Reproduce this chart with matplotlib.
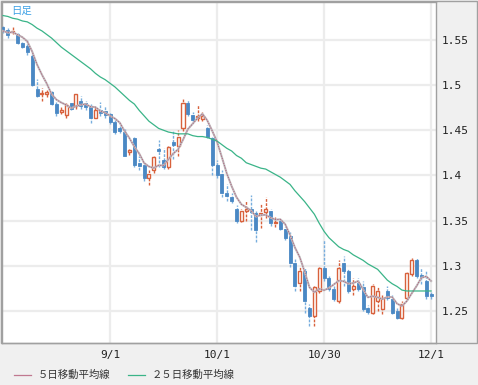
import numpy as np
import pandas as pd
import matplotlib
matplotlib.use("Agg")
import matplotlib.pyplot as plt
from matplotlib.lines import Line2D
from matplotlib.patches import Rectangle

# daily OHLC (index = trading day)
opens = [1.564, 1.561, 1.559, 1.557, 1.547, 1.543, 1.532, 1.496, 1.490, 1.490,
         1.492, 1.479, 1.470, 1.467, 1.480, 1.477, 1.482, 1.480, 1.476, 1.464,
         1.472, 1.471, 1.468, 1.459, 1.452, 1.448, 1.426, 1.441, 1.414, 1.411,
         1.397, 1.406, 1.429, 1.417, 1.409, 1.437, 1.433, 1.452, 1.480, 1.467,
         1.463, 1.462, 1.452, 1.441, 1.412, 1.402, 1.380, 1.376, 1.363, 1.350,
         1.361, 1.363, 1.358, 1.356, 1.359, 1.361, 1.347, 1.350, 1.341, 1.333,
         1.303, 1.281, 1.294, 1.253, 1.244, 1.272, 1.298, 1.286, 1.274, 1.261,
         1.303, 1.294, 1.274, 1.281, 1.276, 1.253, 1.248, 1.261, 1.252, 1.272,
         1.263, 1.250, 1.242, 1.264, 1.291, 1.306, 1.289, 1.283, 1.269]
closes = [1.560, 1.556, 1.560, 1.547, 1.542, 1.537, 1.500, 1.488, 1.491, 1.492,
          1.479, 1.469, 1.472, 1.478, 1.474, 1.490, 1.477, 1.476, 1.463, 1.472,
          1.469, 1.467, 1.459, 1.448, 1.449, 1.422, 1.428, 1.412, 1.410, 1.397,
          1.402, 1.420, 1.427, 1.409, 1.431, 1.434, 1.443, 1.480, 1.468, 1.461,
          1.466, 1.466, 1.443, 1.411, 1.400, 1.380, 1.377, 1.372, 1.350, 1.361,
          1.363, 1.359, 1.339, 1.358, 1.363, 1.347, 1.348, 1.341, 1.331, 1.303,
          1.278, 1.294, 1.261, 1.244, 1.276, 1.297, 1.286, 1.274, 1.263, 1.297,
          1.294, 1.272, 1.278, 1.274, 1.252, 1.249, 1.278, 1.272, 1.264, 1.264,
          1.248, 1.242, 1.258, 1.292, 1.306, 1.289, 1.288, 1.266, 1.266]
highs = [1.567, 1.563, 1.564, 1.558, 1.548, 1.550, 1.534, 1.507, 1.497, 1.496,
         1.494, 1.481, 1.476, 1.480, 1.481, 1.491, 1.488, 1.482, 1.479, 1.476,
         1.481, 1.477, 1.470, 1.461, 1.457, 1.451, 1.429, 1.443, 1.422, 1.413,
         1.406, 1.422, 1.439, 1.430, 1.433, 1.449, 1.450, 1.486, 1.483, 1.470,
         1.478, 1.470, 1.456, 1.443, 1.417, 1.406, 1.391, 1.380, 1.367, 1.363,
         1.372, 1.378, 1.361, 1.369, 1.376, 1.363, 1.354, 1.352, 1.343, 1.337,
         1.308, 1.300, 1.297, 1.258, 1.278, 1.299, 1.328, 1.289, 1.278, 1.306,
         1.311, 1.297, 1.286, 1.286, 1.283, 1.257, 1.280, 1.276, 1.267, 1.278,
         1.267, 1.253, 1.261, 1.294, 1.308, 1.308, 1.297, 1.294, 1.271]
lows = [1.558, 1.552, 1.557, 1.546, 1.541, 1.533, 1.499, 1.487, 1.482, 1.487,
        1.478, 1.466, 1.468, 1.463, 1.472, 1.474, 1.474, 1.472, 1.458, 1.463,
        1.466, 1.464, 1.457, 1.446, 1.447, 1.421, 1.423, 1.409, 1.406, 1.394,
        1.389, 1.403, 1.409, 1.407, 1.407, 1.418, 1.422, 1.449, 1.466, 1.459,
        1.460, 1.460, 1.441, 1.400, 1.397, 1.376, 1.372, 1.369, 1.347, 1.348,
        1.350, 1.339, 1.326, 1.342, 1.353, 1.344, 1.343, 1.339, 1.328, 1.299,
        1.272, 1.272, 1.248, 1.233, 1.233, 1.270, 1.283, 1.272, 1.261, 1.259,
        1.278, 1.270, 1.267, 1.272, 1.250, 1.247, 1.246, 1.250, 1.247, 1.262,
        1.246, 1.241, 1.241, 1.262, 1.289, 1.286, 1.280, 1.263, 1.263]
# 25-day moving average as shown on the chart
ma25 = [1.577, 1.576, 1.574, 1.573, 1.571, 1.570, 1.567, 1.563, 1.560, 1.556,
        1.552, 1.547, 1.542, 1.538, 1.534, 1.530, 1.526, 1.522, 1.518, 1.513,
        1.509, 1.506, 1.502, 1.498, 1.493, 1.488, 1.483, 1.479, 1.472, 1.466,
        1.460, 1.456, 1.452, 1.450, 1.448, 1.447, 1.446, 1.446, 1.446, 1.444,
        1.443, 1.443, 1.442, 1.440, 1.438, 1.434, 1.430, 1.427, 1.422, 1.419,
        1.414, 1.412, 1.410, 1.408, 1.407, 1.404, 1.401, 1.398, 1.394, 1.390,
        1.383, 1.377, 1.371, 1.364, 1.357, 1.347, 1.338, 1.331, 1.326, 1.321,
        1.318, 1.316, 1.312, 1.309, 1.306, 1.302, 1.299, 1.296, 1.290, 1.284,
        1.280, 1.277, 1.273, 1.272, 1.272, 1.272, 1.272, 1.272, 1.272]

tick_pos = [22, 44, 66, 88]
tick_labels = ["9/1", "10/1", "10/30", "12/1"]
y_ticks = [1.25, 1.3, 1.35, 1.4, 1.45, 1.5, 1.55]
y_labels = ["1.25", "1.3", "1.35", "1.4", "1.45", "1.5", "1.55"]

BLUE = "#4a88c4"
BLUE_WICK = "#78aede"
RED = "#d8613c"
GREEN = "#3ab488"

df = pd.DataFrame({"o": opens, "c": closes, "h": highs, "l": lows})
df["ma5"] = df["c"].rolling(5, min_periods=1).mean()
x = np.arange(len(df))
up = df["c"] >= df["o"]

fig = plt.figure(figsize=(4.78, 3.85), dpi=100, facecolor="#f0f0f0")
ax = fig.add_axes([2 / 478, 42 / 385, 434 / 478, 341 / 385])
ax.set_facecolor("white")

# grid
for t in y_ticks:
    ax.axhline(t, color="#ececec", lw=1.6, zorder=0)
for t in tick_pos:
    ax.axvline(t, color="#ececec", lw=1.6, zorder=0)

# wicks
ax.vlines(x[~up], df["l"][~up], df["h"][~up], color=BLUE_WICK, lw=1,
          linestyles=(0, (2, 1)), zorder=2)
ax.vlines(x[up], df["l"][up], df["h"][up], color=RED, lw=1,
          linestyles=(0, (2, 1)), zorder=2)

# bodies
body = (df["c"] - df["o"]).abs().clip(lower=0.0012)
bottom = df[["o", "c"]].min(axis=1)
ax.bar(x[~up], body[~up], bottom=bottom[~up], width=0.62,
       color=BLUE, edgecolor=BLUE, lw=0.6, zorder=3)
ax.bar(x[up], body[up], bottom=bottom[up], width=0.62,
       color="white", edgecolor=RED, lw=1, zorder=3)

# moving averages
ax.plot(x, df["ma5"], color="#c0bcbe", lw=1.5, zorder=4)
ax.plot(x, df["ma5"], color="#b05a78", lw=0.6, ls=(0, (1.5, 1.5)), zorder=5)
ax.plot(x, ma25, color=GREEN, lw=0.9, zorder=4)

ax.set_xlim(-0.2, 89.0)
ax.set_ylim(1.2144, 1.592)
ax.set_xticks(tick_pos)
ax.set_xticklabels(tick_labels, family="DejaVu Sans Mono", fontsize=8)
ax.yaxis.tick_right()
ax.set_yticks(y_ticks)
ax.set_yticklabels(y_labels, family="DejaVu Sans Mono", fontsize=8)
ax.tick_params(length=0, pad=5, colors="#222222")
ax.tick_params(axis="y", pad=4)
for s in ax.spines.values():
    s.set_color("#a0a0a0")
    s.set_linewidth(1)

ax.text(0.02, 0.988, "日足", transform=ax.transAxes, ha="left", va="top",
        fontsize=7.5, color="#3fa2e6", family=["Noto Sans CJK JP", "DejaVu Sans"])

# outer frame around plot + price labels
fig.add_artist(Rectangle((0.5 / 478, 42 / 385), 476.5 / 478, 342.5 / 385,
                         transform=fig.transFigure, fill=False,
                         edgecolor="#a0a0a0", lw=1))

# legend
ly = 10 / 385
fig.add_artist(Line2D([14 / 478, 31 / 478], [ly, ly], color="#c07890", lw=0.9))
fig.text(38 / 478, ly, "５日移動平均線", fontsize=7.5, va="center", color="#333333",
         family=["Noto Sans CJK JP", "DejaVu Sans"])
fig.add_artist(Line2D([128 / 478, 145 / 478], [ly, ly], color=GREEN, lw=0.9))
fig.text(152 / 478, ly, "２５日移動平均線", fontsize=7.5, va="center", color="#333333",
         family=["Noto Sans CJK JP", "DejaVu Sans"])

fig.savefig("out.png", dpi=100, facecolor=fig.get_facecolor())
